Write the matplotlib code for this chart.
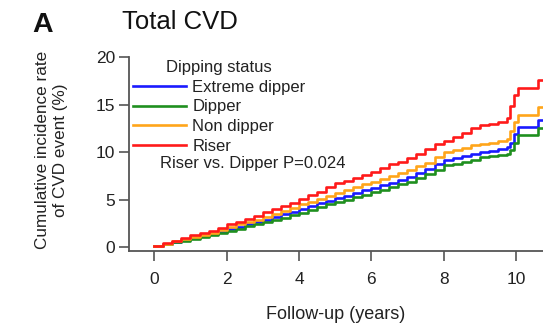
import matplotlib
matplotlib.use("Agg")
import matplotlib.pyplot as plt
from matplotlib.lines import Line2D

plt.rcParams['font.family'] = ['Liberation Sans', 'DejaVu Sans']

times = [0, 0.25, 0.5, 0.75, 1, 1.25, 1.5, 1.75, 2, 2.25, 2.5, 2.75, 3, 3.25, 3.5, 3.75,
         4, 4.25, 4.5, 4.75, 5, 5.25, 5.5, 5.75, 6, 6.25, 6.5, 6.75, 7, 7.25, 7.5, 7.75,
         8, 8.25, 8.5, 8.75, 9, 9.25, 9.5, 9.75, 9.85, 9.95, 10.05, 10.6, 10.9]

extreme_dipper = [0.1, 0.3, 0.55, 0.8, 1.0, 1.2, 1.4, 1.6, 1.9, 2.1, 2.4, 2.6, 2.9, 3.2, 3.5, 3.7,
                  4.0, 4.3, 4.6, 4.9, 5.2, 5.4, 5.7, 6.0, 6.2, 6.5, 6.8, 7.1, 7.4, 7.8, 8.2, 8.7,
                  9.2, 9.4, 9.6, 9.8, 10.0, 10.1, 10.3, 10.5, 11.0, 11.9, 12.6, 13.4, 13.4]
dipper = [0.1, 0.3, 0.5, 0.7, 0.9, 1.1, 1.3, 1.5, 1.7, 1.9, 2.2, 2.4, 2.6, 2.9, 3.1, 3.4,
          3.6, 3.9, 4.2, 4.5, 4.8, 5.0, 5.3, 5.5, 5.8, 6.0, 6.3, 6.6, 6.9, 7.3, 7.7, 8.1,
          8.6, 8.8, 9.0, 9.2, 9.5, 9.6, 9.7, 9.8, 10.2, 11.0, 11.8, 12.5, 12.5]
non_dipper = [0.1, 0.35, 0.6, 0.85, 1.1, 1.3, 1.5, 1.8, 2.1, 2.4, 2.7, 2.9, 3.2, 3.5, 3.8, 4.1,
              4.5, 4.8, 5.1, 5.4, 5.7, 6.0, 6.3, 6.6, 6.9, 7.2, 7.5, 7.8, 8.1, 8.5, 8.9, 9.5,
              10.0, 10.2, 10.4, 10.7, 10.9, 11.0, 11.2, 11.4, 12.2, 13.2, 13.9, 14.7, 14.7]
riser = [0.1, 0.4, 0.7, 1.0, 1.3, 1.5, 1.7, 2.0, 2.4, 2.7, 3.0, 3.3, 3.7, 4.0, 4.3, 4.7,
         5.1, 5.5, 5.8, 6.3, 6.8, 7.0, 7.3, 7.6, 7.9, 8.3, 8.7, 9.0, 9.4, 9.8, 10.3, 10.8,
         11.2, 11.6, 12.0, 12.5, 12.8, 13.0, 13.2, 13.6, 14.8, 16.0, 16.7, 17.6, 17.6]

series_names = ["Extreme dipper", "Dipper", "Non dipper", "Riser"]
series_values = [extreme_dipper, dipper, non_dipper, riser]
colors = ["#1a1aff", "#1f8f1f", "#ffa51a", "#ff1a1a"]

x_ticks = [0, 2, 4, 6, 8, 10]
y_ticks = [0, 5, 10, 15, 20]

fig = plt.figure(figsize=(5.43, 3.23), dpi=100)
ax = fig.add_axes([129/543, 1 - 251/323, 1 - 129/543, 194/323])

for name, vals, c in zip(series_names, series_values, colors):
    ax.plot(times, vals, drawstyle='steps-post', color=c, lw=1.9, label=name)

ax.set_xlim(-0.7, 10.75)
ax.set_ylim(-0.4, 20)
ax.set_xticks(x_ticks)
ax.set_yticks(y_ticks)
ax.spines['top'].set_visible(False)
ax.spines['right'].set_visible(False)
for s in ['left', 'bottom']:
    ax.spines[s].set_color('#555555')
    ax.spines[s].set_linewidth(1.3)
ax.tick_params(axis='both', colors='#555555', length=7, width=1.2, labelsize=12.5,
               labelcolor='#222222')
ax.tick_params(axis='x', pad=8)
ax.tick_params(axis='y', pad=3)

ax.set_ylabel("Cumulative incidence rate\nof CVD event (%)", fontsize=12.3, color='#222222',
              linespacing=1.3)
ax.yaxis.set_label_coords(-0.147, 0.52)
ax.set_xlabel("Follow-up (years)", fontsize=13, color='#222222')
ax.xaxis.set_label_coords(0.498, -0.285)

handles = [Line2D([], [], color=c, lw=1.9) for c in colors]
leg = ax.legend(handles, series_names, title="Dipping status", frameon=False,
                loc='upper left', bbox_to_anchor=(133/543, 1 - 60/323),
                bbox_transform=fig.transFigure, fontsize=12, title_fontsize=12,
                handlelength=3.2, handletextpad=0.35, labelspacing=0.28, borderpad=0,
                borderaxespad=0)
for t in leg.get_texts():
    t.set_color('#222222')
leg.get_title().set_color('#222222')

fig.text(160/543, 1 - 163/323, "Riser vs. Dipper P=0.024", fontsize=12,
         color='#222222', va='center', ha='left')

fig.text(122/543, 1 - 22/323, "Total CVD", fontsize=18.5, color='#111111',
         va='center', ha='left')
fig.text(32/543, 1 - 25/323, "A", fontsize=20.5, fontweight='bold', color='#111111',
         va='center', ha='left')

fig.savefig("out.png", dpi=100)
